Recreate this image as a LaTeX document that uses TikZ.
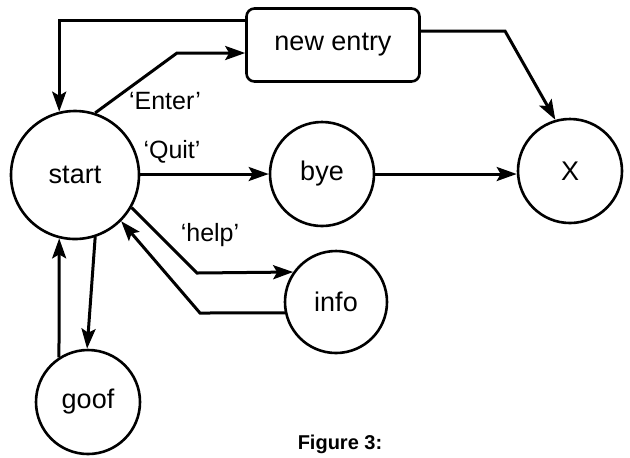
\documentclass[tikz,border=0pt]{standalone}
\usepackage{fontspec}
\setmainfont{Liberation Sans}
\usetikzlibrary{arrows.meta}
\begin{document}
\begin{tikzpicture}[x=0.5pt,y=-0.5pt,
  every node/.style={font=\fontsize{13.5}{15}\selectfont},
  state/.style={draw, circle, line width=1.3pt, inner sep=0pt},
  boxnode/.style={draw, rounded corners=4pt, line width=1.3pt, minimum width=86.5pt, minimum height=36.5pt},
  arr/.style={line width=1.5pt, -{Stealth[length=10pt,width=7pt,inset=2pt]}},
  lbl/.style={font=\fontsize{12.5}{14}\selectfont}]
\useasboundingbox (0,0) rectangle (630,457);
\node[state, minimum size=64pt] (start) at (75,175) {start};
\node[state, minimum size=52pt] (bye) at (322,174) {bye};
\node[state, minimum size=52pt] (X) at (570,171) {X};
\node[state, minimum size=51pt] (info) at (336,302) {info};
\node[state, minimum size=52pt] (goof) at (88,402) {goof};
\node[boxnode] (ne) at (333,45) {new entry};
\coordinate (e1) at (177,53);
\coordinate (n2) at (505,31);
\coordinate (h1) at (197,273);
\coordinate (i1) at (200,313);
% new entry -> start
\draw[arr] ([yshift=12.5pt]ne.west) -| (start.104);
% start -> new entry (Enter)
\draw[arr] (start.72) -- (e1) -- ([yshift=-4pt]ne.west);
\node[lbl] (tEnter) at (165,101) {‘Enter’};
% Quit
\draw[arr] (start.east |- bye.west) -- (bye.west);
\node[lbl] (tQuit) at (172,152) {‘Quit’};
% bye -> X
\draw[arr] (bye.east) -- (X.west |- bye.east);
% new entry -> X
\draw[arr] ([yshift=7pt]ne.east) -- (n2) -- (X.106);
% help
\draw[arr] (start.-30) -- (h1) -- (info.145);
\node[lbl] (tHelp) at (210,235) {‘help’};
% info -> start
\draw[arr] (info.192) -- (i1) -- (start.-45);
% goof <-> start
\draw[arr] (goof.123) -- (start.256);
\draw[arr] (start.-72) -- (goof.91);
% caption
\node[font=\fontsize{10}{12}\selectfont\bfseries] (cap) at (340,444) {Figure 3:};
\end{tikzpicture}
\end{document}
